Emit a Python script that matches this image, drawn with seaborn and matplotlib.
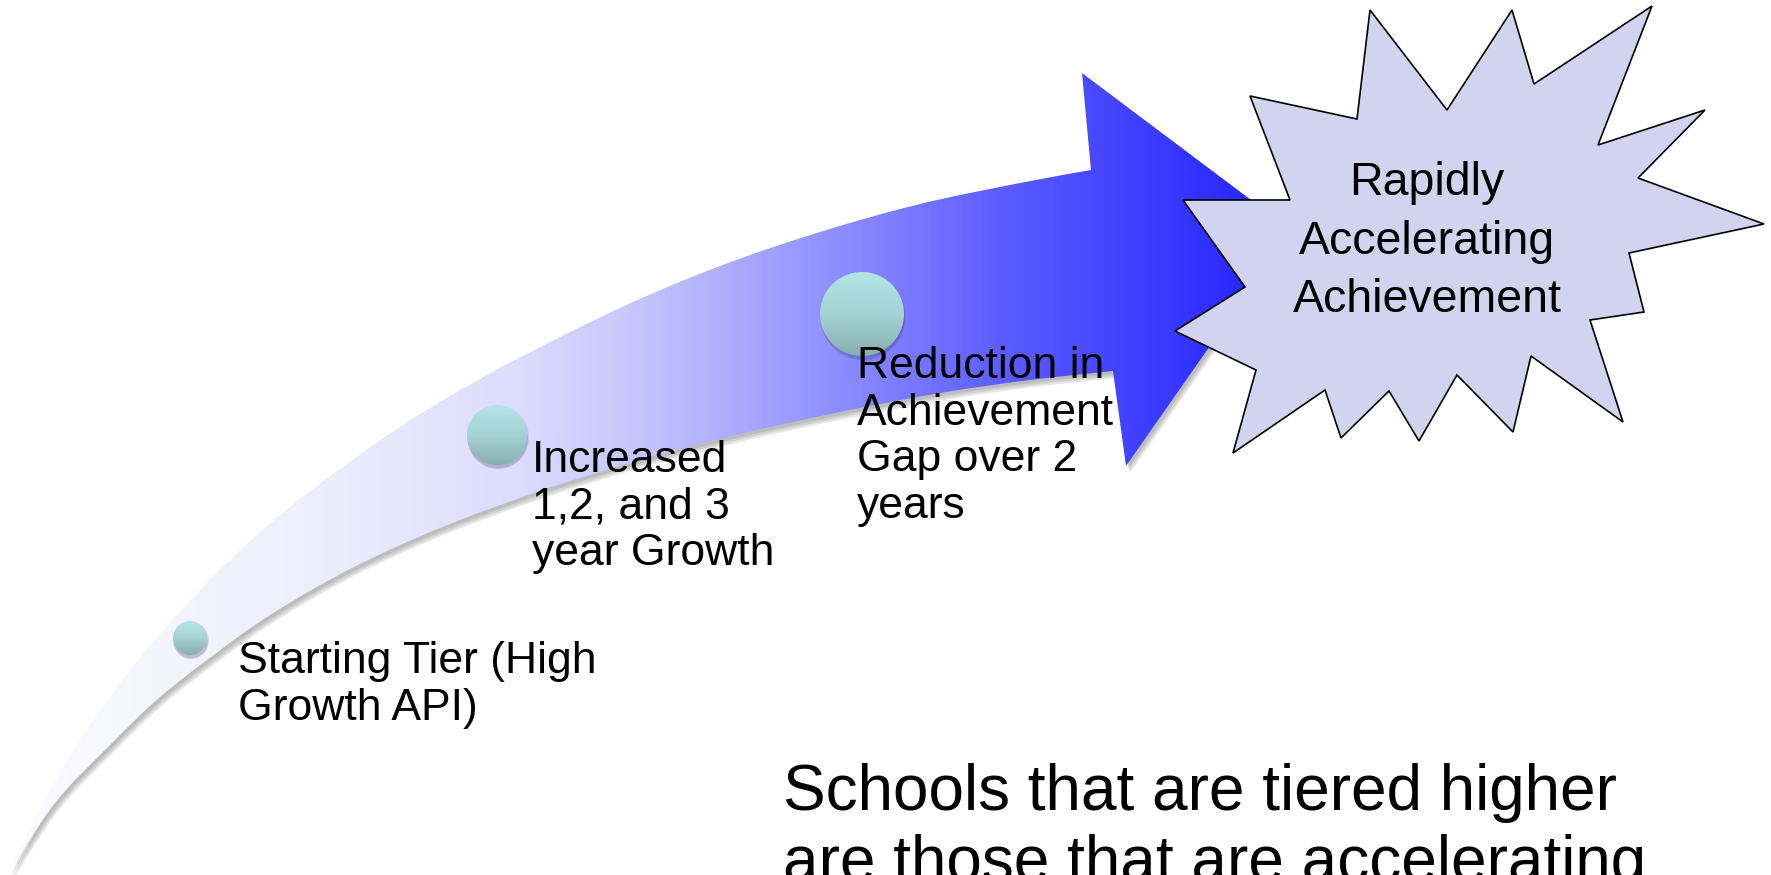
import numpy as np
import matplotlib
matplotlib.use("Agg")
import matplotlib.pyplot as plt
from matplotlib.path import Path
from matplotlib.patches import PathPatch, Polygon, Circle
from matplotlib.colors import LinearSegmentedColormap
import seaborn as sns

sns.set_theme(style="white")
plt.rcParams['font.family'] = ['Liberation Sans', 'DejaVu Sans']

# text content
milestones = [
    ["Starting Tier (High", "Growth API)"],
    ["Increased", "1,2, and 3", "year Growth"],
    ["Reduction in", "Achievement", "Gap over 2", "years"],
]
goal_lines = ["Rapidly", "Accelerating", "Achievement"]
note_lines = ["Schools that are tiered higher", "are those that are accelerating"]

# layout, in pixels of the 1771x875 canvas (y grows downward)
W, H = 1771, 875
dot_xy = [(190, 638), (497, 435), (862, 314)]
dot_r = [17, 30, 42]
label_x = [238, 532, 857]
label_base = [673, 472, 378]
label_step = 46.7

upper_edge = [(8, 874), (25, 838), (67, 761), (115, 690), (167, 626), (230, 560),
              (300, 499), (400, 427), (500, 368), (620, 308), (720, 266),
              (820, 232), (920, 204), (1020, 183), (1091, 170)]
lower_edge = [(8, 874), (55, 803), (110, 745), (160, 697), (215, 654), (270, 615),
              (350, 569), (440, 528), (540, 491), (640, 460), (740, 434),
              (840, 412), (940, 393), (1030, 380), (1113, 371)]
head = [(1082, 73), (1291, 230), (1126, 466)]

star = [(1370, 10), (1447, 110), (1512, 10), (1534, 84), (1652, 6), (1598, 145),
        (1705, 110), (1638, 178), (1764, 224), (1629, 253), (1644, 312),
        (1590, 320), (1623, 422), (1531, 356), (1513, 432), (1457, 375),
        (1419, 441), (1389, 391), (1341, 438), (1325, 390), (1233, 453),
        (1256, 370), (1175, 331), (1245, 287), (1183, 200), (1290, 200),
        (1250, 96), (1357, 119)]


def smooth_segments(pts):
    """Catmull-Rom through pts, returned as cubic bezier vertices (no start point)."""
    p = np.array(pts, dtype=float)
    ext = np.vstack([p[0], p, p[-1]])
    verts = []
    for i in range(1, len(ext) - 2):
        p0, p1, p2, p3 = ext[i - 1], ext[i], ext[i + 1], ext[i + 2]
        verts += [p1 + (p2 - p0) / 6, p2 - (p3 - p1) / 6, p2]
    return verts


def arrow_path(dx=0, dy=0):
    verts = [np.array(upper_edge[0], float)]
    codes = [Path.MOVETO]
    up = smooth_segments(upper_edge)
    verts += up
    codes += [Path.CURVE4] * len(up)
    for pt in head + [lower_edge[-1]]:
        verts.append(np.array(pt, float))
        codes.append(Path.LINETO)
    low = smooth_segments(lower_edge[::-1])
    verts += low
    codes += [Path.CURVE4] * len(low)
    verts.append(verts[0])
    codes.append(Path.CLOSEPOLY)
    return Path(np.array(verts) + [dx, dy], codes)


fig = plt.figure(figsize=(17.71, 8.75), dpi=100)
ax = fig.add_axes([0, 0, 1, 1])

# soft shadow under the arrow
for dx, dy in [(2, 3), (3, 5), (4, 7)]:
    ax.add_patch(PathPatch(arrow_path(dx, dy), fc='#404040', ec='none',
                           alpha=0.13, zorder=1))

# arrow body, horizontal white -> blue gradient
arrow_cmap = LinearSegmentedColormap.from_list("arrow", [
    (0.0, "#fcfcff"), (0.25, "#ededfd"), (0.4, "#dcdcfc"), (0.5, "#c4c4fc"),
    (0.62, "#9999ff"), (0.78, "#5c5cff"), (0.88, "#4040ff"), (1.0, "#2020ff")])
body = PathPatch(arrow_path(), fc='none', ec='none', zorder=2)
ax.add_patch(body)
im = ax.imshow(np.linspace(0, 1, 600)[None, :], cmap=arrow_cmap, aspect='auto',
               extent=[0, 1290, H, 0], zorder=2)
im.set_clip_path(body)

# milestone dots
dot_cmap = sns.blend_palette(["#b4e4e6", "#a6d2d4", "#86afb0"], as_cmap=True)
for (cx, cy), r in zip(dot_xy, dot_r):
    ax.add_patch(Circle((cx + 1, cy + 4), r, fc='#303050', ec='none', alpha=0.18, zorder=3))
    ax.add_patch(Circle((cx + 1, cy + 2), r + 1, fc='#303050', ec='none', alpha=0.10, zorder=3))
    disc = Circle((cx, cy), r, fc='none', ec='none', zorder=4)
    ax.add_patch(disc)
    g = ax.imshow(np.linspace(0, 1, 100)[:, None], cmap=dot_cmap, aspect='auto',
                  extent=[cx - r, cx + r, cy + r, cy - r], zorder=4)
    g.set_clip_path(disc)

# starburst goal
ax.add_patch(Polygon(star, closed=True, fc='#d1d3ef', ec='black', lw=1.2, zorder=5))

# labels
for lines, x0, b0 in zip(milestones, label_x, label_base):
    for i, s in enumerate(lines):
        ax.text(x0, b0 + i * label_step, s, fontsize=32, color='black',
                ha='left', va='baseline', zorder=6)

for i, s in enumerate(goal_lines):
    ax.text(1427, 195 + i * 58.5, s, fontsize=33.5, color='black',
            ha='center', va='baseline', zorder=6)

for i, s in enumerate(note_lines):
    ax.text(783, 810 + i * 71, s, fontsize=46, color='black',
            ha='left', va='baseline', zorder=6)

ax.set_xlim(0, W)
ax.set_ylim(H, 0)
ax.axis('off')
fig.savefig("out.png", dpi=100, facecolor='white')
